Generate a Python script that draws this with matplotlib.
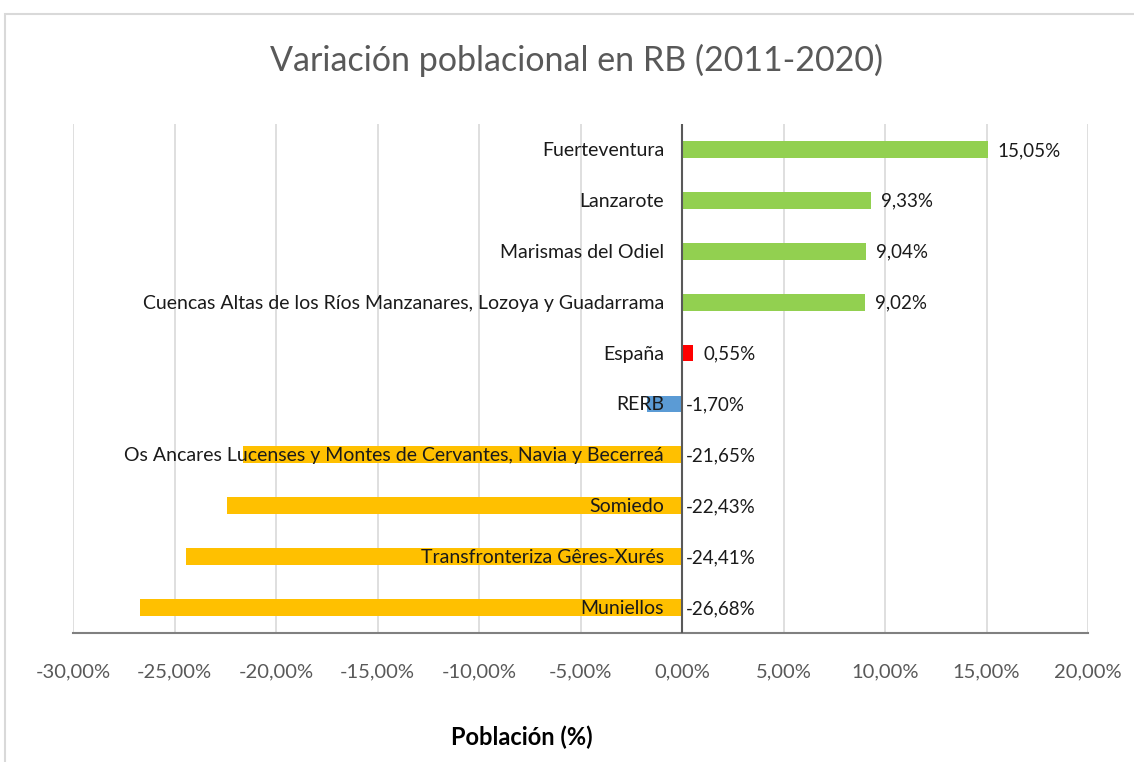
import matplotlib
matplotlib.use("Agg")
import matplotlib.pyplot as plt
from matplotlib.patches import Rectangle

categories = ["Fuerteventura", "Lanzarote", "Marismas del Odiel",
              "Cuencas Altas de los Ríos Manzanares, Lozoya y Guadarrama",
              "España", "RERB",
              "Os Ancares Lucenses y Montes de Cervantes, Navia y Becerreá",
              "Somiedo", "Transfronteriza Gêres-Xurés", "Muniellos"]
values = [15.05, 9.33, 9.04, 9.02, 0.55, -1.70, -21.65, -22.43, -24.41, -26.68]
colors = ["#92D050", "#92D050", "#92D050", "#92D050", "#FF0000", "#5B9BD5",
          "#FFC000", "#FFC000", "#FFC000", "#FFC000"]
xticks = [-30, -25, -20, -15, -10, -5, 0, 5, 10, 15, 20]
xtick_labels = ["-30,00%", "-25,00%", "-20,00%", "-15,00%", "-10,00%", "-5,00%",
                "0,00%", "5,00%", "10,00%", "15,00%", "20,00%"]

plt.rcParams['font.family'] = ['Lato', 'DejaVu Sans']

W, H = 1134, 762
fig = plt.figure(figsize=(W / 100, H / 100), dpi=100)
fig.patch.set_facecolor("white")

# outer chart frame
fig.add_artist(Rectangle((5 / W, -0.1), 1.2, 1 - 14 / H + 0.1, transform=fig.transFigure,
                         fill=False, edgecolor="#D9D9D9", linewidth=1.5))

ax = fig.add_axes([73 / W, 1 - 633 / H, (1088 - 73) / W, (633 - 124) / H])
ypos = list(range(len(categories)))
ax.barh(ypos, values, height=0.33, color=colors, zorder=3)
ax.set_xlim(-30, 20)
ax.set_ylim(len(categories) - 0.5, -0.5)
ax.set_xticks(xticks)
ax.set_xticklabels(xtick_labels, fontsize=14.5, color="#595959")
ax.tick_params(axis="x", length=0, pad=22)
ax.set_yticks([])
ax.grid(axis="x", color="#D9D9D9", linewidth=1.2, zorder=0)
for s in ["top", "right", "left"]:
    ax.spines[s].set_visible(False)
ax.spines["bottom"].set_color("#808080")
ax.spines["bottom"].set_linewidth(1.5)
ax.axvline(0, color="#595959", linewidth=1.5, zorder=4)

for y, (c, v) in enumerate(zip(categories, values)):
    ax.annotate(c, (0, y), xytext=(-18, -1), textcoords="offset pixels",
                ha="right", va="center", fontsize=14, color="#1a1a1a", zorder=5)
    lab = f"{v:.2f}".replace(".", ",") + "%"
    if v >= 0:
        ax.annotate(lab, (v, y), xytext=(10, -1), textcoords="offset pixels",
                    ha="left", va="center", fontsize=13.5, color="#1a1a1a", zorder=5)
    else:
        ax.annotate(lab, (0, y), xytext=(4, -1), textcoords="offset pixels",
                    ha="left", va="center", fontsize=13.5, color="#1a1a1a", zorder=5)

fig.text(576 / W, 1 - 60 / H, "Variación poblacional en RB (2011-2020)",
         ha="center", va="center", fontsize=24.5, color="#595959")
fig.text(522 / W, 1 - 737 / H, "Población (%)", ha="center", va="center",
         fontsize=17, fontweight="bold", color="#000000")

fig.savefig("out.png", dpi=100)
